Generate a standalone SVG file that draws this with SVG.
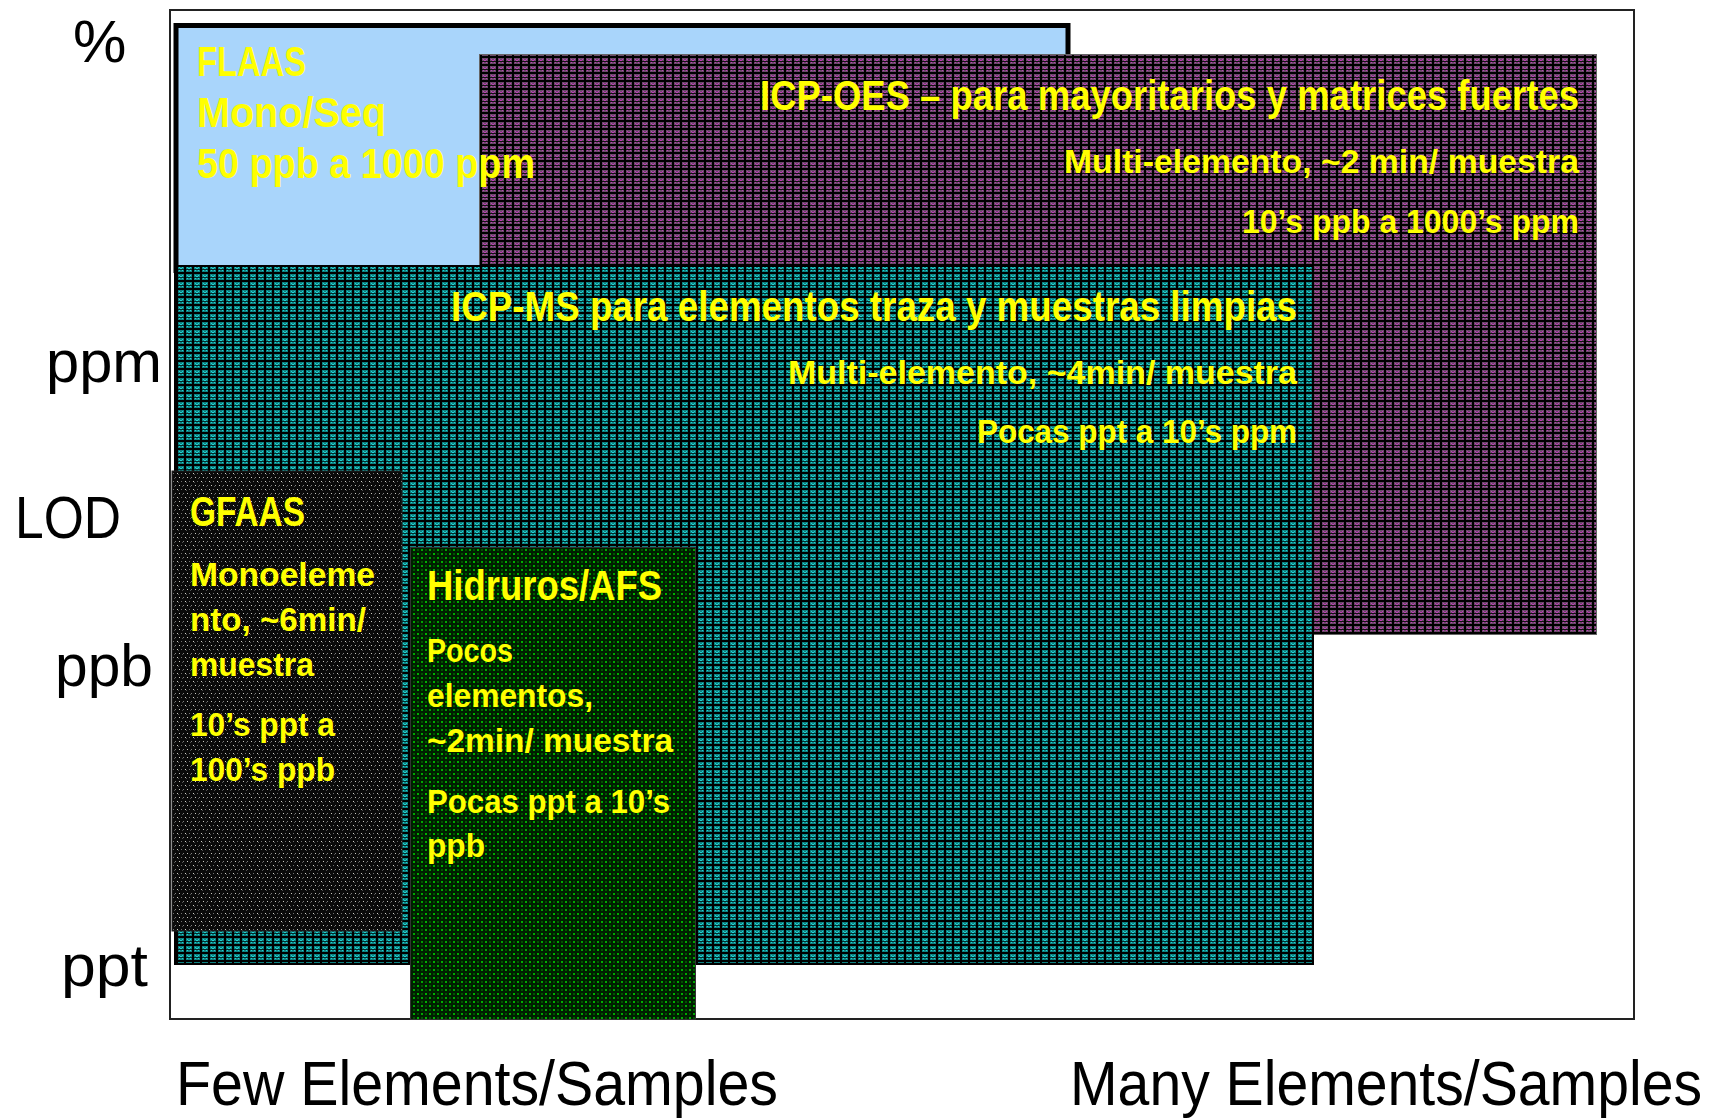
<svg xmlns="http://www.w3.org/2000/svg" width="1722" height="1120" viewBox="0 0 1722 1120">
<style>
.ax{font-family:"Liberation Sans",Arial,sans-serif;font-size:60px;fill:#000}
.bt{font-family:"Liberation Sans",Arial,sans-serif;font-size:63px;fill:#000}
.h{font-family:"Liberation Sans",Arial,sans-serif;font-weight:bold;font-size:42px;fill:#ffff00}
.s{font-family:"Liberation Sans",Arial,sans-serif;font-weight:bold;font-size:34px;fill:#ffff00}
</style>
<defs>
<pattern id="pPurple" width="8" height="8" patternUnits="userSpaceOnUse">
<rect width="8" height="8" fill="#6c4a6a"/>
<rect width="8" height="2" fill="#000"/>
<rect width="2" height="8" fill="#000"/>
<rect x="2" y="5" width="6" height="1" fill="#111"/>
<rect x="3" y="3" width="1" height="1" fill="#c03cb8"/>
<rect x="6" y="3" width="1" height="1" fill="#c03cb8"/>
<rect x="4" y="4" width="2" height="1" fill="#c03cb8"/>
<rect x="3" y="6" width="1" height="1" fill="#c03cb8"/>
<rect x="6" y="6" width="1" height="1" fill="#c03cb8"/>
</pattern>
<pattern id="pTeal" width="8" height="8" patternUnits="userSpaceOnUse">
<rect width="8" height="8" fill="#0e8282"/>
<rect width="8" height="2" fill="#000"/>
<rect width="2" height="8" fill="#000"/>
<rect x="2" y="5" width="6" height="1" fill="#042a2a"/>
<rect x="3" y="3" width="1" height="1" fill="#22d4d4"/>
<rect x="6" y="3" width="1" height="1" fill="#22d4d4"/>
<rect x="4" y="4" width="2" height="1" fill="#22d4d4"/>
<rect x="3" y="6" width="1" height="1" fill="#22d4d4"/>
<rect x="6" y="6" width="1" height="1" fill="#22d4d4"/>
</pattern>
<pattern id="pBlack" width="8" height="8" patternUnits="userSpaceOnUse">
<rect width="8" height="8" fill="#0a0a0a"/>
<rect x="1" y="1" width="1" height="1" fill="#d0d0c8"/>
<rect x="5" y="1" width="1" height="1" fill="#707070"/>
<rect x="3" y="5" width="1" height="1" fill="#c8c8c0"/>
<rect x="7" y="5" width="1" height="1" fill="#808080"/>
<rect x="2" y="2" width="1" height="1" fill="#505050"/>
<rect x="6" y="6" width="1" height="1" fill="#505050"/>
</pattern>
<pattern id="pGreen" width="8" height="8" patternUnits="userSpaceOnUse">
<rect width="8" height="8" fill="#001e00"/>
<rect x="1" y="1" width="2" height="2" fill="#00b000"/>
<rect x="5" y="5" width="2" height="2" fill="#00a800"/>
<rect x="5" y="1" width="2" height="2" fill="#005200"/>
<rect x="1" y="5" width="2" height="2" fill="#004e00"/>
</pattern>
</defs>
<rect width="1722" height="1120" fill="#fff"/>
<g id="frame">
<rect x="170" y="10" width="1464" height="1009" fill="#fff" stroke="#222" stroke-width="2"/>
</g>
<g id="axis-labels">
<text class="ax" x="73" y="62">%</text>
<text class="ax" x="46" y="382" textLength="116" lengthAdjust="spacingAndGlyphs">ppm</text>
<text class="ax" x="15" y="538" textLength="106" lengthAdjust="spacingAndGlyphs">LOD</text>
<text class="ax" x="55" y="686" textLength="98" lengthAdjust="spacingAndGlyphs">ppb</text>
<text class="ax" x="61" y="986" textLength="87" lengthAdjust="spacingAndGlyphs">ppt</text>
<text class="bt" x="176" y="1105" textLength="602" lengthAdjust="spacingAndGlyphs">Few Elements/Samples</text>
<text class="bt" x="1070" y="1105" textLength="632" lengthAdjust="spacingAndGlyphs">Many Elements/Samples</text>
</g>
<g id="flaas-box">
<rect x="176" y="25.5" width="892" height="245" fill="#a9d5fb" stroke="#000" stroke-width="5"/>
</g>
<g id="icp-oes">
<rect x="479.5" y="54.5" width="1117" height="580" fill="url(#pPurple)" stroke="#666" stroke-width="1"/>
<text class="h" x="760" y="110" textLength="819" lengthAdjust="spacingAndGlyphs">ICP-OES – para mayoritarios y matrices fuertes</text>
<text class="s" x="1064" y="173" textLength="515" lengthAdjust="spacingAndGlyphs">Multi-elemento,  ~2 min/ muestra</text>
<text class="s" x="1242" y="233" textLength="337" lengthAdjust="spacingAndGlyphs">10’s ppb a 1000’s ppm</text>
</g>
<g id="flaas">
<text class="h" x="197" y="76" textLength="109" lengthAdjust="spacingAndGlyphs">FLAAS</text>
<text class="h" x="197" y="127" textLength="189" lengthAdjust="spacingAndGlyphs">Mono/Seq</text>
<text class="h" x="197" y="178" textLength="338" lengthAdjust="spacingAndGlyphs">50 ppb a 1000 ppm</text>
</g>
<g id="icp-ms">
<rect x="175" y="266" width="1138" height="698" fill="url(#pTeal)" stroke="#000" stroke-width="2"/>
<text class="h" x="451" y="321" textLength="846" lengthAdjust="spacingAndGlyphs">ICP-MS para elementos traza y muestras limpias</text>
<text class="s" x="788" y="384" textLength="509" lengthAdjust="spacingAndGlyphs">Multi-elemento,  ~4min/ muestra</text>
<text class="s" x="977" y="443" textLength="320" lengthAdjust="spacingAndGlyphs">Pocas ppt a 10’s ppm</text>
</g>
<g id="gfaas">
<rect x="172" y="471" width="230" height="460" fill="url(#pBlack)" stroke="#222" stroke-width="1"/>
<text class="h" x="190" y="526" font-size="40" textLength="115" lengthAdjust="spacingAndGlyphs">GFAAS</text>
<text class="s" x="190" y="586" textLength="185" lengthAdjust="spacingAndGlyphs">Monoeleme</text>
<text class="s" x="190" y="631" textLength="176" lengthAdjust="spacingAndGlyphs">nto, ~6min/</text>
<text class="s" x="190" y="676" textLength="124" lengthAdjust="spacingAndGlyphs">muestra</text>
<text class="s" x="190" y="736" textLength="145" lengthAdjust="spacingAndGlyphs">10’s ppt a</text>
<text class="s" x="190" y="781" textLength="145" lengthAdjust="spacingAndGlyphs">100’s ppb</text>
</g>
<g id="hidruros-afs">
<rect x="410.5" y="547.5" width="285" height="472" fill="url(#pGreen)" stroke="#333" stroke-width="1"/>
<text class="h" x="427" y="600" font-size="40" textLength="235" lengthAdjust="spacingAndGlyphs">Hidruros/AFS</text>
<text class="s" x="427" y="662" textLength="86" lengthAdjust="spacingAndGlyphs">Pocos</text>
<text class="s" x="427" y="707" textLength="166" lengthAdjust="spacingAndGlyphs">elementos,</text>
<text class="s" x="427" y="752" textLength="246" lengthAdjust="spacingAndGlyphs">~2min/ muestra</text>
<text class="s" x="427" y="813" textLength="243" lengthAdjust="spacingAndGlyphs">Pocas ppt a 10’s</text>
<text class="s" x="427" y="857" textLength="58" lengthAdjust="spacingAndGlyphs">ppb</text>
</g>
</svg>
